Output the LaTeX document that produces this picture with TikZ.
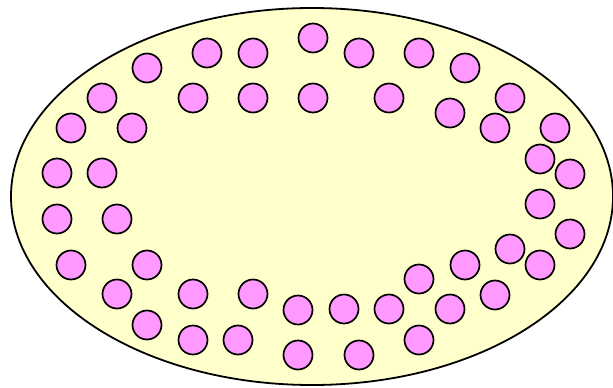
\documentclass[tikz,border=0pt]{standalone}
\usetikzlibrary{shapes.geometric}
\definecolor{cellfill}{HTML}{FFFFCC}
\definecolor{dotfill}{HTML}{FF99FF}
\begin{document}
\begin{tikzpicture}[x=1pt,y=-1pt,
  membrane/.style={ellipse,draw=black,line width=1.8pt,fill=cellfill,minimum width=602pt,minimum height=377pt,inner sep=0pt},
  granule/.style={circle,draw=black,line width=1.7pt,fill=dotfill,minimum size=29pt,inner sep=0pt}]
\useasboundingbox (0,0) rectangle (613,388);
\node[membrane] (cell) at (312,196.5) {};
\foreach \x/\y [count=\i] in {
 313/38, 207/53, 253/53, 359/53, 419/53, 147/68, 465/68,
 102/98, 193/98, 253/98, 313/98, 389/98, 510/98,
 450/113, 71/128, 132/128, 495/128, 555/128,
 540/159, 57/173, 102/173, 570/174, 540/204,
 57/219, 117/219, 570/234, 510/249,
 71/265, 147/265, 465/265, 540/265, 419/279,
 117/294, 193/294, 253/294, 495/295,
 298/310, 344/309, 389/309, 450/309,
 147/325, 193/340, 238/340, 419/340,
 298/355, 359/355}
 \node[granule] (g\i) at (\x,\y) {};
\end{tikzpicture}
\end{document}
